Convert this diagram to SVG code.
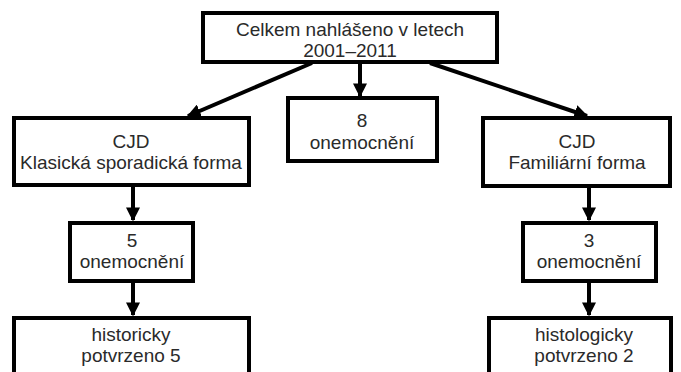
<svg xmlns="http://www.w3.org/2000/svg" width="681" height="372" viewBox="0 0 681 372">
<style>
.box{fill:#fff;stroke:#000;stroke-width:4}
.t{font-family:"Liberation Sans",Arial,sans-serif;font-size:19px;fill:#2a2a2a;text-anchor:middle}
.c{stroke:#000;stroke-width:4;fill:none}
</style>
<defs>
<marker id="ah" viewBox="0 0 10 10" refX="9" refY="5" markerWidth="3.5" markerHeight="3.5" orient="auto" markerUnits="strokeWidth">
<path d="M0,0 L10,5 L0,10 z" fill="#000"/>
</marker>
</defs>
<rect width="681" height="372" fill="#fff"/>
<g id="connectors">
<line class="c" x1="312" y1="63" x2="188" y2="116" marker-end="url(#ah)"/>
<line class="c" x1="360" y1="63" x2="360" y2="96" marker-end="url(#ah)"/>
<line class="c" x1="430" y1="63" x2="587" y2="116" marker-end="url(#ah)"/>
<line class="c" x1="133" y1="186" x2="133" y2="220" marker-end="url(#ah)"/>
<line class="c" x1="133" y1="282" x2="133" y2="315" marker-end="url(#ah)"/>
<line class="c" x1="589" y1="187" x2="589" y2="220" marker-end="url(#ah)"/>
<line class="c" x1="589" y1="282" x2="589" y2="315" marker-end="url(#ah)"/>
</g>
<g id="top">
<rect class="box" x="203" y="13" width="294" height="49"/>
<text class="t" x="350" y="36">Celkem nahlášeno v letech</text>
<text class="t" x="350" y="57">2001–2011</text>
</g>
<g id="mid">
<rect class="box" x="288" y="98" width="149" height="63"/>
<text class="t" x="362" y="127">8</text>
<text class="t" x="362" y="149">onemocnění</text>
</g>
<g id="left1">
<rect class="box" x="14" y="118" width="235" height="67"/>
<text class="t" x="131" y="148">CJD</text>
<text class="t" x="131" y="169">Klasická sporadická forma</text>
</g>
<g id="right1">
<rect class="box" x="483" y="118" width="187" height="68"/>
<text class="t" x="577" y="148">CJD</text>
<text class="t" x="577" y="169">Familiární forma</text>
</g>
<g id="left2">
<rect class="box" x="70" y="223" width="123" height="58"/>
<text class="t" x="132" y="247">5</text>
<text class="t" x="132" y="268">onemocnění</text>
</g>
<g id="right2">
<rect class="box" x="523" y="223" width="133" height="58"/>
<text class="t" x="589" y="247">3</text>
<text class="t" x="589" y="268">onemocnění</text>
</g>
<g id="left3">
<rect class="box" x="14" y="318" width="235" height="60"/>
<text class="t" x="131" y="341">historicky</text>
<text class="t" x="131" y="362">potvrzeno 5</text>
</g>
<g id="right3">
<rect class="box" x="489" y="318" width="182" height="60"/>
<text class="t" x="584" y="341">histologicky</text>
<text class="t" x="584" y="362">potvrzeno 2</text>
</g>
</svg>
